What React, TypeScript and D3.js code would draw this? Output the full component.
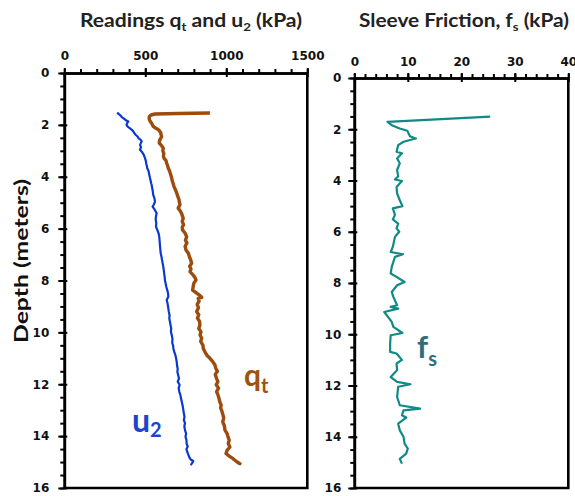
import React, { useEffect, useRef } from 'react';
import * as d3 from 'd3';

// cone readings, depth in metres and values in kPa
const u2Depth = [1.52, 1.58, 1.64, 1.7, 1.76, 1.82, 1.87, 1.93, 2.0, 2.06, 2.12, 2.18, 2.25, 2.31, 2.38, 2.45, 2.51, 2.57, 2.64, 2.7, 2.78, 2.86, 2.96, 3.05, 3.15, 3.28, 3.38, 3.5, 3.6, 3.67, 3.78, 3.9, 4.05, 4.15, 4.25, 4.31, 4.42, 4.55, 4.7, 4.82, 4.96, 5.08, 5.15, 5.25, 5.35, 5.41, 5.52, 5.65, 5.8, 5.92, 6.05, 6.18, 6.31, 6.45, 6.6, 6.75, 6.95, 7.08, 7.2, 7.33, 7.47, 7.6, 7.75, 7.88, 7.98, 8.1, 8.25, 8.4, 8.52, 8.63, 8.75, 8.9, 9.07, 9.2, 9.35, 9.45, 9.59, 9.72, 9.85, 9.97, 10.1, 10.25, 10.4, 10.52, 10.62, 10.75, 10.88, 11.0, 11.14, 11.28, 11.4, 11.52, 11.65, 11.78, 11.9, 12.02, 12.15, 12.29, 12.4, 12.52, 12.65, 12.75, 12.88, 13.0, 13.12, 13.25, 13.38, 13.5, 13.62, 13.77, 13.9, 14.02, 14.15, 14.29, 14.4, 14.5, 14.61, 14.72, 14.82, 14.9, 14.96, 15.05, 15.12];
const u2Kpa = [327, 335, 348, 355, 368, 380, 395, 388, 384, 390, 402, 415, 426, 431, 440, 452, 457, 470, 478, 472, 468, 474, 467, 480, 490, 498, 503, 506, 510, 512, 520, 524, 529, 533, 536, 539, 542, 546, 549, 556, 560, 552, 545, 556, 565, 570, 566, 564, 568, 566, 574, 582, 586, 588, 590, 592, 595, 600, 603, 607, 611, 614, 617, 620, 621, 625, 630, 637, 641, 642, 632, 638, 642, 645, 650, 648, 652, 656, 660, 658, 663, 668, 666, 672, 673, 679, 686, 690, 694, 696, 700, 698, 703, 708, 700, 712, 706, 710, 716, 720, 724, 728, 732, 735, 738, 742, 738, 745, 741, 745, 752, 748, 754, 755, 762, 754, 759, 766, 772, 780, 796, 788, 780];

const qtDepth = [1.54, 1.56, 1.58, 1.62, 1.66, 1.72, 1.8, 1.88, 1.95, 2.06, 2.12, 2.18, 2.25, 2.32, 2.4, 2.45, 2.52, 2.6, 2.7, 2.78, 2.9, 3.0, 3.1, 3.2, 3.28, 3.38, 3.48, 3.58, 3.67, 3.78, 3.9, 4.05, 4.15, 4.28, 4.38, 4.5, 4.63, 4.75, 4.88, 4.96, 5.08, 5.21, 5.32, 5.45, 5.6, 5.72, 5.85, 5.95, 6.05, 6.18, 6.31, 6.45, 6.55, 6.68, 6.82, 6.95, 7.08, 7.2, 7.34, 7.45, 7.56, 7.66, 7.78, 7.88, 7.98, 8.1, 8.22, 8.37, 8.48, 8.58, 8.65, 8.69, 8.8, 8.92, 9.05, 9.2, 9.32, 9.45, 9.58, 9.72, 9.85, 9.98, 10.1, 10.23, 10.35, 10.5, 10.62, 10.75, 10.88, 11.0, 11.12, 11.26, 11.38, 11.5, 11.62, 11.78, 11.9, 12.02, 12.15, 12.29, 12.4, 12.55, 12.68, 12.8, 12.92, 13.0, 13.15, 13.3, 13.45, 13.6, 13.77, 13.9, 14.02, 14.16, 14.28, 14.42, 14.55, 14.67, 14.78, 14.86, 14.93, 15.0, 15.06, 15.03];
const qtKpa = [899, 700, 560, 535, 527, 524, 525, 532, 540, 549, 562, 580, 590, 596, 598, 601, 595, 588, 586, 598, 611, 608, 614, 612, 615, 628, 632, 638, 642, 650, 656, 663, 666, 673, 677, 686, 694, 700, 708, 710, 714, 703, 716, 726, 734, 728, 736, 728, 730, 746, 755, 748, 757, 746, 751, 766, 772, 780, 786, 774, 782, 776, 794, 806, 813, 800, 796, 792, 815, 838, 848, 827, 832, 820, 828, 817, 830, 822, 835, 837, 830, 844, 838, 848, 842, 856, 858, 868, 880, 899, 915, 930, 935, 945, 932, 940, 948, 938, 952, 940, 948, 955, 960, 968, 965, 971, 978, 984, 978, 988, 992, 1005, 1010, 1018, 1012, 1022, 1005, 998, 1020, 1040, 1053, 1068, 1084, 1072];

const fsDepth = [1.51, 1.71, 1.84, 1.97, 2.06, 2.27, 2.36, 2.49, 2.62, 2.88, 2.94, 3.14, 3.33, 3.59, 3.83, 3.96, 4.02, 4.25, 4.5, 4.77, 5.0, 5.09, 5.34, 5.52, 5.68, 5.87, 6.0, 6.2, 6.59, 6.79, 6.88, 6.98, 7.37, 7.63, 7.76, 7.96, 8.09, 8.35, 8.54, 8.87, 8.93, 9.0, 9.13, 9.32, 9.52, 9.71, 9.95, 10.04, 10.36, 10.69, 10.75, 11.0, 11.14, 11.4, 11.67, 11.86, 11.95, 12.05, 12.45, 12.77, 12.9, 12.97, 13.16, 13.25, 13.49, 13.75, 14.0, 14.27, 14.46, 14.66, 14.86, 15.05];
const fsKpa = [25.4, 6.2, 7.0, 8.5, 9.9, 10.4, 11.5, 9.2, 8.2, 7.9, 8.9, 8.0, 8.5, 8.0, 8.2, 7.6, 8.9, 7.9, 8.0, 8.5, 9.0, 7.2, 7.6, 7.2, 8.2, 7.9, 8.4, 7.6, 7.2, 6.8, 9.1, 7.6, 7.0, 6.8, 7.9, 9.4, 8.0, 7.0, 7.3, 8.0, 6.8, 8.2, 5.6, 6.3, 7.0, 7.3, 9.0, 6.8, 6.7, 6.7, 7.9, 8.9, 7.9, 8.0, 6.8, 8.0, 10.5, 8.2, 8.0, 8.5, 12.3, 9.2, 8.9, 9.7, 8.2, 8.5, 9.2, 9.4, 10.0, 9.7, 8.5, 8.9];

const readingTicks = [0, 500, 1000, 1500];
const readingMinor = d3.range(0, 1501, 100);
const frictionTicks = [0, 10, 20, 30, 40];
const frictionMinor = d3.range(0, 41, 2);
const depthTicks = [0, 2, 4, 6, 8, 10, 12, 14, 16];
const depthMinor = d3.range(0, 16.01, 0.5);

const tickFont = '"DejaVu Sans", Verdana, sans-serif';
const titleFont = 'Lato, "Open Sans", sans-serif';

const xRead = d3.scaleLinear().domain([0, 1500]).range([64.3, 307.3]);
const yRead = d3.scaleLinear().domain([0, 16]).range([73, 488]);
const xFric = d3.scaleLinear().domain([0, 40]).range([354.3, 568.3]);
const yFric = d3.scaleLinear().domain([0, 16]).range([78, 488]);

function drawAxes(g: any, x: any, y: any, majors: number[], minors: number[], xPad: number, yPad: number) {
  const fmt = d3.format('d');
  const xa = g.append('g').attr('transform', `translate(0,${y(0)})`);
  xa.call(d3.axisTop(x).tickValues(minors).tickSize(4).tickSizeOuter(0).tickFormat(() => ''));
  const xm = g.append('g').attr('transform', `translate(0,${y(0)})`);
  xm.call(d3.axisTop(x).tickValues(majors).tickSize(4).tickSizeOuter(0).tickPadding(xPad).tickFormat(fmt));
  xm.selectAll('.tick line').attr('y2', -5).attr('y1', 4);

  const ya = g.append('g').attr('transform', `translate(${x(0)},0)`);
  ya.call(d3.axisLeft(y).tickValues(depthMinor).tickSize(4).tickSizeOuter(0).tickFormat(() => ''));
  const ym = g.append('g').attr('transform', `translate(${x(0)},0)`);
  ym.call(d3.axisLeft(y).tickValues(depthTicks).tickSize(6).tickSizeOuter(0).tickPadding(yPad).tickFormat(fmt));
  ym.selectAll('.tick line').attr('x1', 3);

  g.selectAll('g').attr('font-size', null).attr('font-family', null);
  g.selectAll('path.domain').attr('stroke', '#000').attr('stroke-width', 2.6);
  g.selectAll('.tick line').attr('stroke', '#000').attr('stroke-width', 2);
  g.selectAll('.tick text')
    .style('font-family', tickFont)
    .style('font-weight', 'bold')
    .style('font-size', '12px')
    .attr('fill', '#111');

  const [x0, x1] = x.range();
  const [y0, y1] = y.range();
  g.append('path')
    .attr('d', `M${x1},${y0}V${y1}H${x0}`)
    .attr('fill', 'none')
    .attr('stroke', '#000')
    .attr('stroke-width', 2.6);
}

const trace = (depth: number[], val: number[], x: any, y: any) =>
  d3.line<number>().x((i) => x(val[i])).y((i) => y(depth[i]))(d3.range(depth.length)) || '';

export default function App() {
  const ref = useRef<SVGSVGElement>(null);

  useEffect(() => {
    const svg = d3.select(ref.current);
    svg.selectAll('g.axes').remove();
    drawAxes(svg.append('g').attr('class', 'axes'), xRead, yRead, readingTicks, readingMinor, 9, 9);
    drawAxes(svg.append('g').attr('class', 'axes'), xFric, yFric, frictionTicks, frictionMinor, 8, 7);
  }, []);

  return (
    <svg ref={ref} width={575} height={496} style={{ position: 'absolute', left: 0, top: 0, background: '#fff' }}>
      <text x={191} y={27} fontFamily={titleFont} fontWeight="bold" fontSize={19} fill="#222" textAnchor="middle" textLength={222} lengthAdjust="spacingAndGlyphs">
        Readings q<tspan fontSize={12} dy={4}>t</tspan><tspan dy={-4}> and u</tspan><tspan fontSize={12} dy={4}>2</tspan><tspan dy={-4}> (kPa)</tspan>
      </text>
      <text x={464} y={27} fontFamily={titleFont} fontWeight="bold" fontSize={19} fill="#222" textAnchor="middle" textLength={210} lengthAdjust="spacingAndGlyphs">
        Sleeve Friction, f<tspan fontSize={12} dy={4}>s</tspan><tspan dy={-4}> (kPa)</tspan>
      </text>
      <text transform="translate(28,261) rotate(-90)" fontFamily={titleFont} fontWeight="bold" fontSize={19} fill="#111" textAnchor="middle" textLength={164} lengthAdjust="spacingAndGlyphs">
        Depth (meters)
      </text>

      <path d={trace(u2Depth, u2Kpa, xRead, yRead)} fill="none" stroke="#0A38D2" strokeWidth={2.2} strokeLinejoin="round" />
      <path d={trace(qtDepth, qtKpa, xRead, yRead)} fill="none" stroke="#9C4C0E" strokeWidth={3.4} strokeLinejoin="round" />
      <path d={trace(fsDepth, fsKpa, xFric, yFric)} fill="none" stroke="#108A86" strokeWidth={2.2} strokeLinejoin="round" />

      <text x={244} y={386} fontFamily={titleFont} fontWeight="bold" fontSize={30} fill="#A0520F">
        q<tspan fontSize={20} dy={7}>t</tspan>
      </text>
      <text x={132} y={432} fontFamily={titleFont} fontWeight="bold" fontSize={32} fill="#1D44CC">
        u<tspan fontSize={20} dy={5}>2</tspan>
      </text>
      <text x={417} y={358} fontFamily={titleFont} fontWeight="bold" fontSize={31} fill="#2E6E7E">
        f<tspan fontSize={20} dy={8}>s</tspan>
      </text>
    </svg>
  );
}
